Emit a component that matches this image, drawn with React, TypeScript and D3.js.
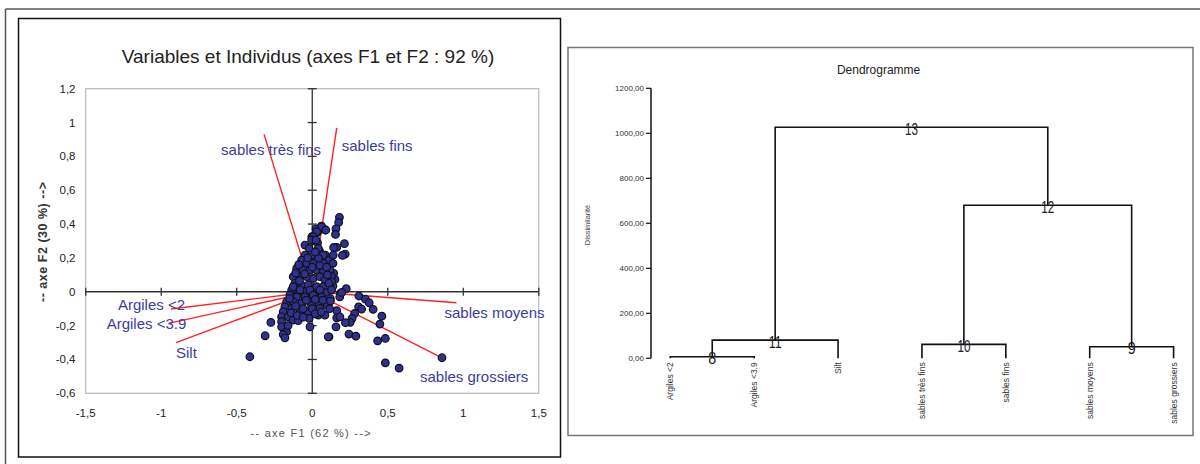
import React from 'react';
import * as d3 from 'd3';

// ---------- ACP : variables (coordonnées F1 / F2) ----------
const varNames = ['sables très fins', 'sables fins', 'sables moyens', 'sables grossiers', 'Argiles <2', 'Argiles <3.9', 'Silt'];
const varF1 = [-0.319, 0.162, 0.955, 0.859, -0.935, -0.953, -0.902];
const varF2 = [0.93, 0.969, -0.065, -0.39, -0.102, -0.187, -0.301];

// ---------- ACP : individus (F1, F2) ----------
const individus: [number, number][] = [
  [0.18, 0.44], [0.175, 0.41], [0.157, 0.372], [0.154, 0.339], [0.162, 0.262], [0.142, 0.262], [0.213, 0.284],
  [0.218, 0.223], [0.2, 0.215], [0.086, 0.365], [0.061, 0.388], [0.035, 0.351], [0.025, 0.372], [-0.003, 0.325],
  [0.01, 0.301], [0.035, 0.29], [-0.048, 0.276], [-0.02, 0.256], [0.048, 0.242], [0.086, 0.217], [0.111, 0.187],
  [0.137, 0.168], [0.142, 0.109], [0.15, 0.073], [0.137, 0.034], [0.225, 0.018], [0.187, -0.01], [0.182, -0.03],
  [0.309, -0.025], [0.352, -0.043], [0.377, -0.065], [0.403, -0.104], [0.307, -0.089], [0.327, -0.102],
  [0.281, -0.128], [0.264, -0.157], [0.251, -0.181], [0.22, -0.183], [0.162, -0.112], [0.162, -0.154],
  [0.157, -0.207], [0.111, -0.266], [0.243, -0.25], [0.289, -0.262], [0.461, -0.144], [0.448, -0.191],
  [0.433, -0.29], [0.484, -0.276], [0.484, -0.42], [0.575, -0.451], [0.859, -0.39], [0.183, -0.148],
  [-0.312, -0.26], [-0.413, -0.384], [-0.274, -0.181],
  [0.062, 0.384], [0.09, 0.365], [0.029, 0.355], [0.007, 0.325], [-0.004, 0.306], [0.025, 0.306],
  [0.139, 0.217], [0.04, 0.256], [0.073, 0.217], [0.073, 0.168], [0.04, 0.197], [-0.004, 0.217], [-0.048, 0.217],
  [-0.07, 0.187], [-0.037, 0.168], [0.007, 0.168], [-0.103, 0.138], [-0.06, 0.128], [-0.015, 0.128], [0.029, 0.128],
  [0.073, 0.118], [0.117, 0.128], [0.128, 0.089], [0.128, 0.059], [-0.126, 0.089], [-0.081, 0.089], [-0.037, 0.089],
  [0.007, 0.079], [0.051, 0.089], [0.084, 0.069], [-0.115, 0.05], [-0.07, 0.04], [-0.026, 0.04], [0.029, 0.03],
  [0.073, 0.03], [0.195, -0.004], [-0.136, 0.01], [-0.093, 0.004], [-0.048, 0], [-0.004, -0.004], [0.051, 0],
  [0.095, -0.004], [-0.09, 0.16], [-0.11, 0.11], [-0.085, 0.065], [-0.05, 0.105], [0.0, 0.145], [0.05, 0.155],
  [0.095, 0.145], [0.1, 0.1], [0.11, 0.05], [-0.03, 0.2], [0.02, 0.235],
  [-0.126, 0.03], [-0.081, 0.01], [-0.015, 0.01], [0.051, 0.01], [0.128, 0.01], [-0.148, -0.02], [-0.103, -0.03],
  [-0.048, -0.03], [0.007, -0.02], [0.062, -0.03], [-0.17, -0.059], [-0.126, -0.059], [-0.07, -0.069],
  [-0.015, -0.059], [0.04, -0.069], [0.095, -0.069], [-0.181, -0.089], [-0.136, -0.098], [-0.081, -0.108],
  [-0.026, -0.118], [-0.004, -0.083], [0.051, -0.098], [0.099, -0.079], [-0.192, -0.118], [-0.203, -0.148],
  [-0.159, -0.148], [-0.126, -0.167], [-0.093, -0.171], [-0.02, -0.157], [0.04, -0.138], [0.084, -0.138],
  [-0.203, -0.177], [-0.203, -0.207], [-0.17, -0.236], [-0.192, -0.252], [-0.181, -0.272],
  [-0.15, -0.04], [-0.11, -0.085], [-0.06, -0.1], [-0.04, -0.05], [0.02, -0.045], [0.07, -0.05], [0.12, -0.04],
  [-0.16, -0.2], [-0.14, -0.125], [-0.1, -0.14], [-0.06, -0.15], [0.0, -0.1], [0.02, -0.13], [0.06, -0.12],
  [0.115, -0.1], [0.12, -0.055], [-0.015, -0.207], [0.106, -0.266],
];

const xTicks = [-1.5, -1, -0.5, 0, 0.5, 1, 1.5];
const yTicks = [-0.6, -0.4, -0.2, 0, 0.2, 0.4, 0.6, 0.8, 1, 1.2];

// ---------- Dendrogramme ----------
const leafNames = ['Argiles <2', 'Argiles <3.9', 'Silt', 'sables très fins', 'sables fins', 'sables moyens', 'sables grossiers'];
// leaves are numbered 1..7, merges 8..13
const mergeIds = [8, 9, 10, 11, 12, 13];
const mergeChildren: [number, number][] = [[1, 2], [6, 7], [4, 5], [8, 3], [10, 9], [11, 12]];
const mergeHeights = [7, 51.5, 62, 81, 680, 1027];
const dendroTicks = [0, 200, 400, 600, 800, 1000, 1200];

// label placement (pixels relative to arrow tip) – styling only
const labelPlacement: { dx: number; dy: number; anchor: string }[] = [
  { dx: -43, dy: 21, anchor: 'start' },
  { dx: 5, dy: 23, anchor: 'start' },
  { dx: -12, dy: 15, anchor: 'start' },
  { dx: -22, dy: 24, anchor: 'start' },
  { dx: 14, dy: 1, anchor: 'end' },
  { dx: 18, dy: 6, anchor: 'end' },
  { dx: 0, dy: 15, anchor: 'start' },
];

const FONT = 'Liberation Sans, Arial, sans-serif';
const fmtComma = (v: number) => String(v).replace('.', ',');

export default function App() {
  // ACP scales
  const x = d3.scaleLinear().domain([-1.5, 1.5]).range([85.7, 538.8]);
  const y = d3.scaleLinear().domain([-0.6, 1.2]).range([393.3, 88.7]);
  const x0 = x(0);
  const y0 = y(0);

  // Dendrogram scales
  const dx = d3.scalePoint<string>().domain(leafNames).range([670.3, 1173.6]);
  const dy = d3.scaleLinear().domain([0, 1200]).range([358.3, 88.3]);
  const nodePos = new Map<number, { x: number; h: number }>();
  leafNames.forEach((n, i) => nodePos.set(i + 1, { x: dx(n) as number, h: 0 }));
  const merges = mergeIds.map((id, i) => {
    const [a, b] = mergeChildren[i];
    const pa = nodePos.get(a)!;
    const pb = nodePos.get(b)!;
    const h = mergeHeights[i];
    const left = pa.x < pb.x ? pa : pb;
    const right = pa.x < pb.x ? pb : pa;
    const mx = (left.x + right.x) / 2;
    nodePos.set(id, { x: mx, h });
    const path = d3.path();
    path.moveTo(left.x, dy(left.h));
    path.lineTo(left.x, dy(h));
    path.lineTo(right.x, dy(h));
    path.lineTo(right.x, dy(right.h));
    return { id, mx, h, d: path.toString() };
  });

  return (
    <svg width={1200} height={464} style={{ position: 'absolute', left: 0, top: 0, background: '#fff' }} fontFamily={FONT}>
      <rect x={0} y={0} width={1200} height={464} fill="#fff" />
      {/* outer frame */}
      <line x1={5.5} y1={9} x2={1200} y2={9} stroke="#555" strokeWidth={1.5} />
      <line x1={5.5} y1={9} x2={5.5} y2={464} stroke="#555" strokeWidth={1.5} />

      {/* ================= Left: ACP ================= */}
      <rect x={18.5} y={18.5} width={542} height={438.5} fill="#fff" stroke="#111" strokeWidth={1.5} />
      <text x={308} y={63} textAnchor="middle" fontSize={19} fill="#222">
        Variables et Individus (axes F1 et F2 : 92 %)
      </text>
      <rect x={x(-1.5)} y={y(1.2)} width={x(1.5) - x(-1.5)} height={y(-0.6) - y(1.2)} fill="#fff" stroke="#b4b8c4" strokeWidth={1.2} />

      {/* axes through origin */}
      <line x1={x(-1.5)} y1={y0} x2={x(1.5)} y2={y0} stroke="#333" strokeWidth={1.3} />
      <line x1={x0} y1={y(1.2)} x2={x0} y2={y(-0.6)} stroke="#333" strokeWidth={1.3} />
      {xTicks.filter((t) => t !== 0).map((t) => (
        <line key={'xt' + t} x1={x(t)} x2={x(t)} y1={y0 - 4} y2={y0 + 4} stroke="#333" strokeWidth={1.3} />
      ))}
      {yTicks.filter((t) => t !== 0).map((t) => (
        <line key={'yt' + t} x1={x0 - 4.5} x2={x0 + 4.5} y1={y(t)} y2={y(t)} stroke="#333" strokeWidth={1.3} />
      ))}

      {/* tick labels */}
      {xTicks.map((t) => (
        <text key={'xl' + t} x={x(t)} y={413} dy="0.35em" textAnchor="middle" fontSize={11.5} fill="#222">
          {fmtComma(t)}
        </text>
      ))}
      {yTicks.map((t) => (
        <text key={'yl' + t} x={75.5} y={y(t)} dy="0.35em" textAnchor="end" fontSize={11.5} fill="#222">
          {fmtComma(t)}
        </text>
      ))}

      {/* axis titles */}
      <text x={310.6} y={437} textAnchor="middle" fontSize={11} fill="#555" textLength={120} lengthAdjust="spacing">
        -- axe F1 (62 %) --&gt;
      </text>
      <text
        transform={`translate(47,242) rotate(-90)`}
        textAnchor="middle"
        fontSize={12.5}
        fontWeight="bold"
        fill="#333"
        textLength={120}
        lengthAdjust="spacing"
      >
        -- axe F2 (30 %) --&gt;
      </text>

      {/* variable vectors */}
      {varNames.map((n, i) => (
        <line key={'v' + n} x1={x0} y1={y0} x2={x(varF1[i])} y2={y(varF2[i])} stroke="#f22" strokeWidth={1.4} />
      ))}

      {/* individuals */}
      {individus.map((p, i) => (
        <circle key={'p' + i} cx={x(p[0])} cy={y(p[1])} r={3.8} fill="#2e3192" stroke="#111" strokeWidth={1.2} />
      ))}

      {/* variable labels */}
      {varNames.map((n, i) => (
        <text
          key={'vl' + n}
          x={x(varF1[i]) + labelPlacement[i].dx}
          y={y(varF2[i]) + labelPlacement[i].dy}
          textAnchor={labelPlacement[i].anchor as any}
          fontSize={15}
          fill="#3c3c9e"
        >
          {n}
        </text>
      ))}

      {/* ================= Right: Dendrogramme ================= */}
      <rect x={568} y={47.5} width={625} height={388} fill="#fff" stroke="#777" strokeWidth={1.5} />
      <text x={878.6} y={73.5} textAnchor="middle" fontSize={12} fill="#222">
        Dendrogramme
      </text>
      <text transform="translate(590,225) rotate(-90)" textAnchor="middle" fontSize={7.5} fill="#444">
        Dissimilarité
      </text>
      <line x1={651} x2={651} y1={dy(1200)} y2={dy(0)} stroke="#111" strokeWidth={1.5} />
      {dendroTicks.map((t) => (
        <g key={'dt' + t}>
          <line x1={646} x2={651} y1={dy(t)} y2={dy(t)} stroke="#111" strokeWidth={1.2} />
          <text x={644} y={dy(t)} dy="0.35em" textAnchor="end" fontSize={8} fill="#333">
            {d3.format('.2f')(t).replace('.', ',')}
          </text>
        </g>
      ))}
      {merges.map((m) => (
        <path key={'m' + m.id} d={m.d} fill="none" stroke="#111" strokeWidth={1.6} />
      ))}
      {merges.map((m) => (
        <text
          key={'ml' + m.id}
          x={m.mx}
          y={dy(m.h) + 1.5}
          dy="0.35em"
          textAnchor="middle"
          fontSize={17}
          fill="#222"
          textLength={m.id >= 10 ? 13 : 8}
          lengthAdjust="spacingAndGlyphs"
        >
          {m.id}
        </text>
      ))}
      {leafNames.map((n) => (
        <text
          key={'leaf' + n}
          transform={`translate(${dx(n)},${dy(0) + 4}) rotate(-90)`}
          textAnchor="end"
          dy="0.35em"
          fontSize={8.5}
          fill="#333"
        >
          {n}
        </text>
      ))}
    </svg>
  );
}
